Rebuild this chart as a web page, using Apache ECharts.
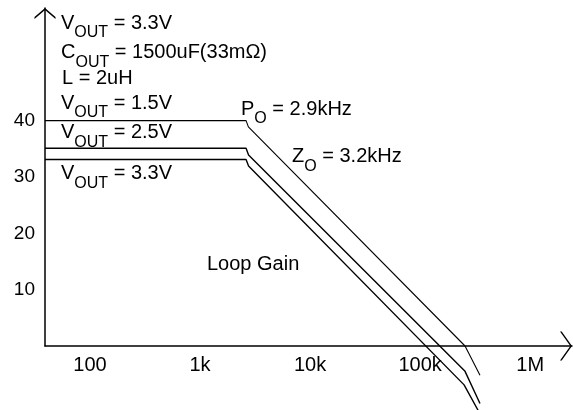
<!DOCTYPE html>
<html><head><meta charset="utf-8">
<script src="https://cdn.jsdelivr.net/npm/echarts@6/dist/echarts.min.js"></script>
<style>html,body{margin:0;padding:0;background:#fff}#c{width:573px;height:410px}</style>
</head><body><div id="c"></div>
<script>
// x tick values / labels (Hz)
const xTickValues = [100, 1000, 10000, 100000, 1000000];
const xTickLabels = ['100', '1k', '10k', '100k', '1M'];
// y tick labels (dB)
const yTickValues = [10, 20, 30, 40];

// Loop gain curves (frequency Hz, gain dB)
const freqV15 = [39, 2620, 2750, 256000, 350000];
const gainV15 = [40, 40, 38.9, 0, -5.2];
const freqV25 = [39, 2620, 2760, 256000, 350000];
const gainV25 = [35.1, 35.1, 33.9, -4.5, -10.2];
const freqV33 = [39, 2620, 2760, 251000, 336000];
const gainV33 = [33.1, 33.1, 31.95, -6.9, -11.4];

const FONT = "'Liberation Sans', Arial, sans-serif";
function pairs(xs, ys) { return xs.map((x, i) => [x, ys[i]]); }

const chart = echarts.init(document.getElementById('c'), null, {renderer: 'canvas'});

const rich = {
  m: {fontSize: 20, fontFamily: FONT, color: '#000'},
  s: {fontSize: 16, fontFamily: FONT, color: '#000', padding: [19.4, 0, 0, 0]}
};
// annotation: [richText, left x, baseline y, hasSub]
const notes = [
  ['{m|V}{s|OUT}{m| = 3.3V}', 61, 30, true],
  ['{m|C}{s|OUT}{m| = 1500uF(33mΩ)}', 61, 59.3, true],
  ['{m|L = 2uH}', 62, 85, false],
  ['{m|V}{s|OUT}{m| = 1.5V}', 61, 110, true],
  ['{m|V}{s|OUT}{m| = 2.5V}', 61, 139.3, true],
  ['{m|V}{s|OUT}{m| = 3.3V}', 61, 180.7, true],
  ['{m|P}{s|O}{m| = 2.9kHz}', 241, 116, true],
  ['{m|Z}{s|O}{m| = 3.2kHz}', 292, 163.3, true],
  ['{m|Loop Gain}', 207, 271.7, false]
];
const graphic = notes.map(n => ({
  type: 'text', x: n[1], y: n[2] - (n[3] ? 24.6 : 16.9), z: 10,
  style: {text: n[0], rich: rich, fontSize: 20, fontFamily: FONT, fill: '#000', align: 'left', verticalAlign: 'top'}
}));

const lineSeries = (data, w) => ({
  type: 'line', data: data, symbol: 'none', clip: false, silent: true,
  lineStyle: {color: '#000', width: w}, animation: false
});

chart.setOption({
  backgroundColor: '#fff',
  animation: false,
  grid: {left: 45, right: 1, top: 8, bottom: 64, containLabel: false, outerBoundsMode: 'none'},
  xAxis: {
    type: 'log', logBase: 10, min: 39, max: 2400000,
    axisLine: {show: true, onZero: false, lineStyle: {color: '#000', width: 1.5},
      symbol: ['none', 'path://M0,10.31L14.5,0L29,10.31L29,12L14.5,1.69L0,12Z'],
      symbolSize: [29, 12], symbolOffset: [0, -6]},
    axisTick: {show: false},
    splitLine: {show: false},
    minorTick: {show: false}, minorSplitLine: {show: false},
    axisLabel: {
      show: true, margin: 9, color: '#000', fontSize: 20, fontFamily: FONT,
      showMinLabel: false, showMaxLabel: false,
      formatter: function (v) {
        for (let i = 0; i < xTickValues.length; i++) {
          if (Math.abs(Math.log10(v) - Math.log10(xTickValues[i])) < 1e-6) return xTickLabels[i];
        }
        return '';
      }
    }
  },
  yAxis: {
    type: 'value', min: 0, max: 60, interval: 10,
    axisLine: {show: true, onZero: false, lineStyle: {color: '#000', width: 1.5},
      symbol: ['none', 'path://M0,9.12L10.5,0L21,9.12L21,11L10.5,1.88L0,11Z'],
      symbolSize: [21, 11], symbolOffset: [0, -5.5]},
    axisTick: {show: false},
    splitLine: {show: false},
    axisLabel: {
      show: true, margin: 10, color: '#000', fontSize: 19, fontFamily: FONT,
      padding: [7, 0, 0, 0],
      formatter: function (v) { return yTickValues.indexOf(v) >= 0 ? String(v) : ''; }
    }
  },
  series: [
    lineSeries(pairs(freqV15, gainV15), 1.1),
    lineSeries(pairs(freqV25, gainV25), 1.4),
    lineSeries(pairs(freqV33, gainV33), 1.4)
  ],
  graphic: graphic
});
</script>
</body></html>
